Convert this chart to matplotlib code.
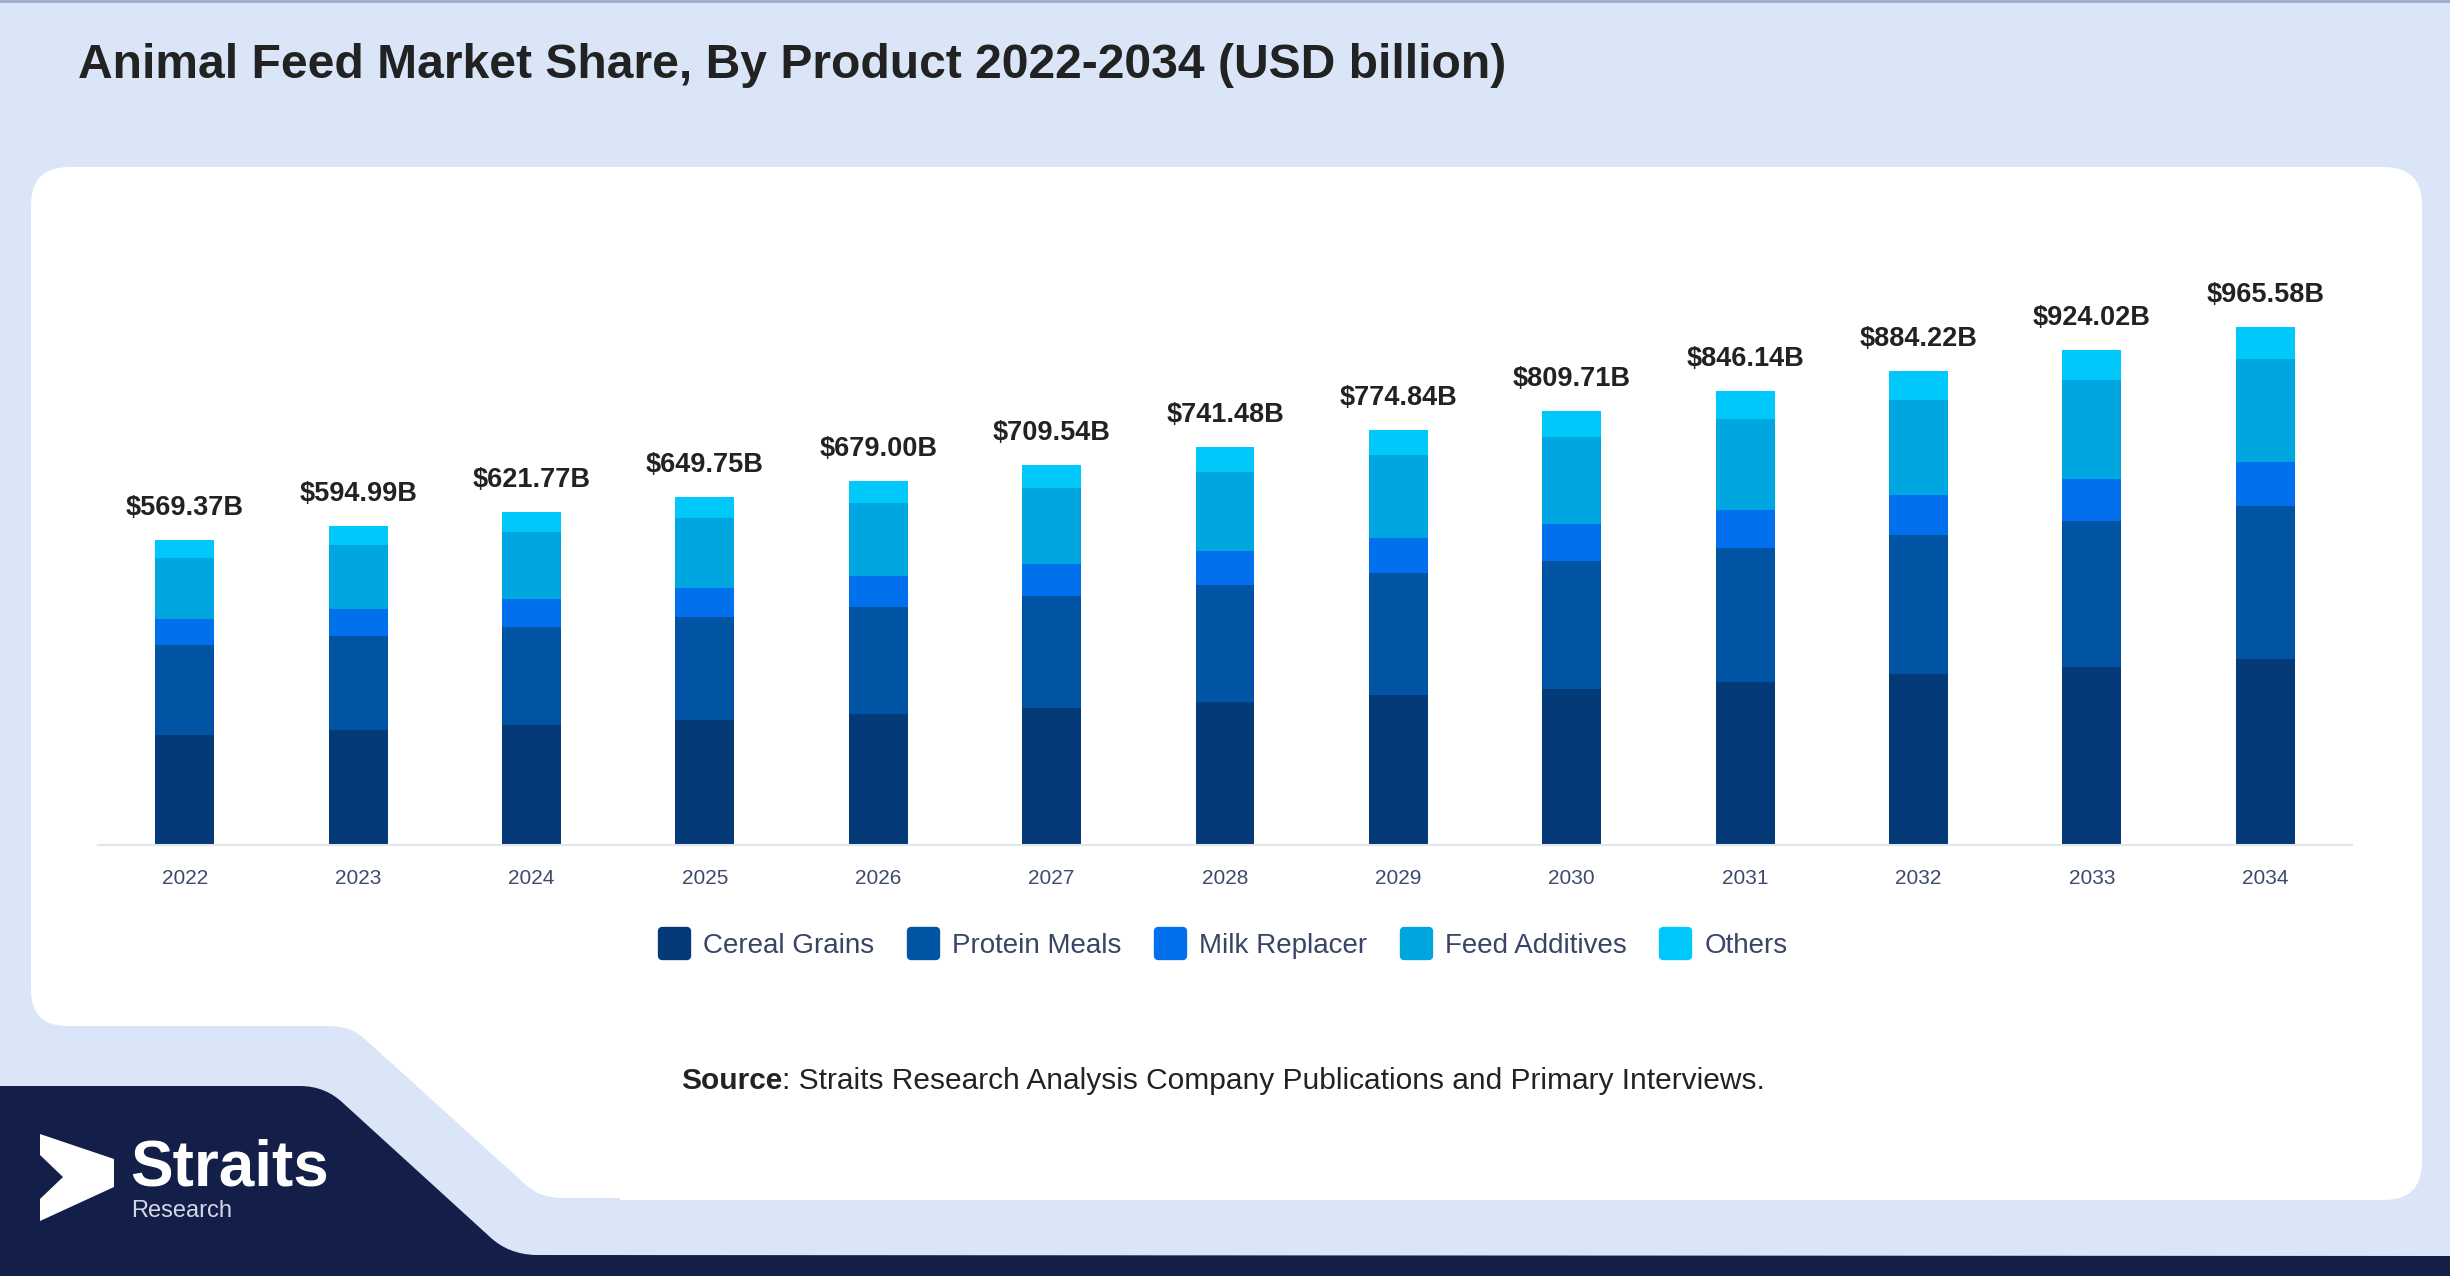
import matplotlib
matplotlib.use("Agg")
import matplotlib.pyplot as plt
from matplotlib.path import Path
from matplotlib.patches import PathPatch, FancyBboxPatch, Polygon
from matplotlib.lines import Line2D
from matplotlib.markers import MarkerStyle
from matplotlib.transforms import IdentityTransform

plt.rcParams['font.family'] = ['Liberation Sans', 'DejaVu Sans']

# data (USD billion)
years = ['2022', '2023', '2024', '2025', '2026', '2027', '2028',
         '2029', '2030', '2031', '2032', '2033', '2034']
totals = [569.37, 594.99, 621.77, 649.75, 679.00, 709.54, 741.48,
          774.84, 809.71, 846.14, 884.22, 924.02, 965.58]
cereal_grains = [204.97, 214.20, 223.84, 233.91, 244.44, 255.43, 266.93,
                 278.94, 291.50, 304.61, 318.32, 332.65, 347.61]
protein_meals = [167.39, 174.93, 182.80, 191.03, 199.63, 208.60, 217.99,
                 227.80, 238.06, 248.77, 259.96, 271.66, 283.88]
milk_replacer = [48.40, 50.57, 52.85, 55.23, 57.72, 60.31, 63.03,
                 65.86, 68.83, 71.92, 75.16, 78.54, 82.07]
feed_additives = [113.87, 119.00, 124.35, 129.95, 135.80, 141.91, 148.30,
                  154.97, 161.94, 169.23, 176.84, 184.80, 193.12]
others = [34.74, 36.29, 37.93, 39.63, 41.41, 43.29, 45.23,
          47.27, 49.38, 51.61, 53.94, 56.37, 58.90]

segments = ['Cereal Grains', 'Protein Meals', 'Milk Replacer', 'Feed Additives', 'Others']
series = [cereal_grains, protein_meals, milk_replacer, feed_additives, others]
colors = ['#033a77', '#0153a3', '#0070ec', '#00a6e0', '#00c8fb']

W, H = 2450, 1276
BG = '#dae6f8'
NAVY = '#131f48'

fig = plt.figure(figsize=(W / 100, H / 100), dpi=100, facecolor=BG)
px = IdentityTransform()


def P(x, y):
    # pixel coords measured from the top-left corner
    return (x, H - y)


def rounded_path(pts):
    # pts: list of (kind, x, y) with kind 'M', 'L' or 'Q' (Q takes ctrl then end)
    verts, codes = [], []
    for kind, x, y in pts:
        verts.append(P(x, y))
        codes.append({'M': Path.MOVETO, 'L': Path.LINETO, 'Q': Path.CURVE3}[kind])
    verts.append(verts[0])
    codes.append(Path.CLOSEPOLY)
    return Path(verts, codes)


# thin top border
fig.add_artist(Line2D([0, W], [H - 1, H - 1], transform=px, color='#9aaac8', lw=2))

# white panel
panel = FancyBboxPatch(P(31, 1200), 2422 - 31, 1200 - 167,
                       boxstyle='round,pad=0,rounding_size=38',
                       transform=px, fc='white', ec='none', zorder=0)
fig.add_artist(panel)

# light blue notch bottom-left of the panel
r = 36
notch = rounded_path([
    ('M', 31, 1026 - r), ('Q', 31, 1026), ('Q', 31 + r, 1026),
    ('L', 330, 1026), ('Q', 352, 1026), ('Q', 367, 1041),
    ('L', 526, 1185), ('Q', 540, 1198), ('Q', 562, 1198),
    ('L', 620, 1198), ('L', 620, 1276), ('L', 0, 1276), ('L', 0, 1026 - r),
])
fig.add_artist(PathPatch(notch, transform=px, fc=BG, ec='none', zorder=0.5))

# navy footer shape
navy = rounded_path([
    ('M', 0, 1086), ('L', 300, 1086), ('Q', 325, 1086), ('Q', 343, 1103),
    ('L', 490, 1237), ('Q', 508, 1254), ('Q', 535, 1255),
    ('L', W, 1256), ('L', W, H), ('L', 0, H),
])
fig.add_artist(PathPatch(navy, transform=px, fc=NAVY, ec='none', zorder=0.6))

# logo
arrow = [P(40, 1134), P(114, 1159), P(114, 1187), P(40, 1221),
         P(40, 1199), P(63, 1177), P(40, 1155)]
fig.add_artist(Polygon(arrow, closed=True, transform=px, fc='white', ec='none', zorder=1))
fig.text(130, H - 1186, 'Straits', transform=px, color='white', fontsize=46,
         fontweight='bold', ha='left', va='baseline', zorder=1)
fig.text(131, H - 1217, 'Research', transform=px, color='#d3d8e6', fontsize=17,
         ha='left', va='baseline', zorder=1)

# title
fig.text(78, H - 66, 'Animal Feed Market Share, By Product 2022-2034 (USD billion)',
         transform=px, fontsize=34.6, fontweight='bold', color='#222222',
         ha='left', va='center')

# chart
ax = fig.add_axes([98 / W, (H - 845) / H, (2352 - 98) / W, (845 - 253) / H])
ax.set_facecolor('none')
x = list(range(len(years)))
bottom = [0.0] * len(years)
for name, vals, c in zip(segments, series, colors):
    ax.bar(x, vals, width=0.34, bottom=bottom, color=c, label=name, zorder=2)
    bottom = [b + v for b, v in zip(bottom, vals)]

for xi, t in zip(x, totals):
    ax.annotate(f'${t:.2f}B', (xi, t), xytext=(0, 23), textcoords='offset points',
                ha='center', va='center', fontsize=19.5, fontweight='bold',
                color='#222222')

ax.set_xlim(-0.5, len(years) - 0.5)
ax.set_ylim(0, 1104)
ax.set_xticks(x)
ax.set_xticklabels(years)
ax.tick_params(axis='x', length=0, pad=17, labelsize=15, labelcolor='#3d4b6b')
ax.set_yticks([])
for s in ['top', 'left', 'right']:
    ax.spines[s].set_visible(False)
ax.spines['bottom'].set_color('#e2e5ea')
ax.spines['bottom'].set_linewidth(1.5)

# legend with rounded square markers
handles = [Line2D([], [], ls='', marker=MarkerStyle('s', joinstyle='round'),
                  markersize=18, mew=6, mfc=c, mec=c) for c in colors]
fig.legend(handles, segments, loc='center', bbox_to_anchor=(1223 / W, (H - 946) / H),
           ncol=5, frameon=False, fontsize=20, labelcolor='#3a4566',
           handlelength=1.1, handletextpad=0.5, columnspacing=1.2)

# source line
renderer = fig.canvas.get_renderer()
t1 = fig.text(681, H - 1081, 'Source', transform=px, fontsize=21.5,
              fontweight='bold', color='#222222', ha='left', va='center')
bb = t1.get_window_extent(renderer)
fig.text(bb.x1, H - 1081, ': Straits Research Analysis Company Publications and Primary Interviews.',
         transform=px, fontsize=21.5, color='#222222', ha='left', va='center')

fig.savefig('out.png', dpi=100, facecolor=BG)
